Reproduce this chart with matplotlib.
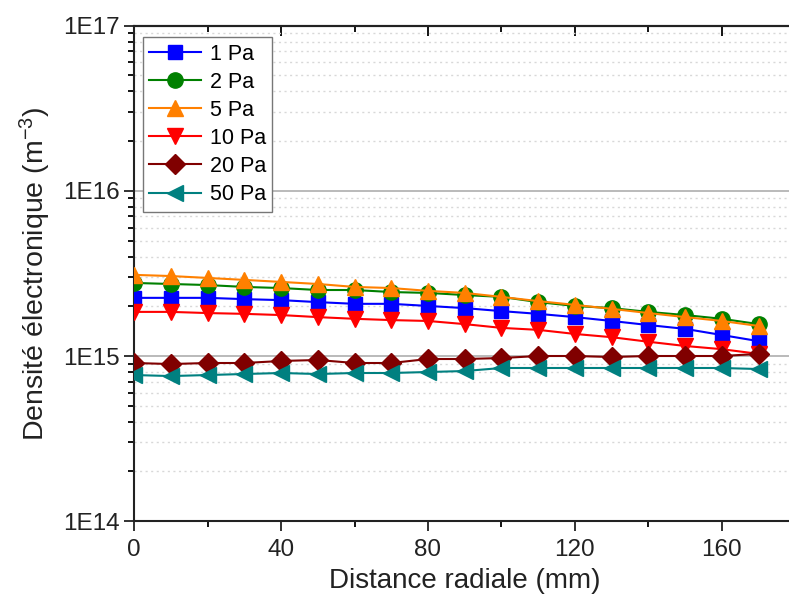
import numpy as np
import matplotlib
matplotlib.use("Agg")
import matplotlib.pyplot as plt
from matplotlib.ticker import FixedLocator, FuncFormatter, LogLocator, NullFormatter

plt.rcParams['font.family'] = ['Liberation Sans', 'DejaVu Sans']
plt.rcParams['mathtext.fontset'] = 'custom'
plt.rcParams['mathtext.rm'] = 'Liberation Sans'
plt.rcParams['mathtext.default'] = 'regular'

# radial distance (mm)
distance = [0, 10, 20, 30, 40, 50, 60, 70, 80, 90, 100, 110, 120, 130, 140, 150, 160, 170]

# electron density (x1E15 m^-3)
ne_1pa = [2.25, 2.25, 2.25, 2.21, 2.18, 2.12, 2.07, 2.07, 2.01, 1.95, 1.87, 1.80, 1.72, 1.63, 1.54, 1.46, 1.34, 1.23]
ne_2pa = [2.77, 2.73, 2.69, 2.62, 2.58, 2.51, 2.51, 2.44, 2.41, 2.34, 2.28, 2.12, 2.01, 1.95, 1.85, 1.77, 1.68, 1.56]
ne_5pa = [3.10, 3.05, 2.97, 2.89, 2.81, 2.73, 2.62, 2.58, 2.48, 2.41, 2.28, 2.15, 2.04, 1.93, 1.82, 1.72, 1.63, 1.52]
ne_10pa = [1.85, 1.85, 1.82, 1.80, 1.77, 1.72, 1.68, 1.65, 1.63, 1.56, 1.48, 1.44, 1.36, 1.30, 1.22, 1.15, 1.10, 1.03]
ne_20pa = [0.907, 0.894, 0.907, 0.907, 0.933, 0.946, 0.907, 0.907, 0.959, 0.959, 0.972, 1.00, 1.00, 0.986, 1.00, 1.00, 1.00, 1.03]
ne_50pa = [0.767, 0.756, 0.767, 0.778, 0.789, 0.778, 0.789, 0.789, 0.800, 0.811, 0.846, 0.846, 0.846, 0.846, 0.846, 0.846, 0.846, 0.834]

labels = ['1 Pa', '2 Pa', '5 Pa', '10 Pa', '20 Pa', '50 Pa']
series = [ne_1pa, ne_2pa, ne_5pa, ne_10pa, ne_20pa, ne_50pa]
colors = ['#0000ff', '#008000', '#ff8000', '#ff0000', '#800000', '#008080']
markers = ['s', 'o', '^', 'v', 'D', '<']
msizes = [10, 11, 12, 12, 10, 12]

fig = plt.figure(figsize=(7.89, 5.99), dpi=100)
ax = fig.add_axes([0.170, 0.130, 0.838, 0.827])

for vals, lab, c, m, ms in zip(series, labels, colors, markers, msizes):
    ax.plot(distance, np.array(vals) * 1e15, color=c, marker=m, markersize=ms,
            markeredgecolor=c, linewidth=1.5, label=lab, zorder=3)

ax.set_yscale('log')
ax.set_ylim(1e14, 1e17)
ax.set_xlim(0, 180)

ax.xaxis.set_major_locator(FixedLocator([0, 40, 80, 120, 160]))
ax.xaxis.set_minor_locator(FixedLocator([20, 60, 100, 140]))
ax.yaxis.set_major_locator(FixedLocator([1e14, 1e15, 1e16, 1e17]))
ax.yaxis.set_major_formatter(FuncFormatter(lambda v, p: "1E%d" % int(round(np.log10(v)))))
ax.yaxis.set_minor_locator(LogLocator(base=10, subs=np.arange(2, 10)))
ax.yaxis.set_minor_formatter(NullFormatter())

ax.grid(True, which='major', axis='y', color='#b4b4b4', linewidth=1.3, zorder=0)
ax.grid(True, which='minor', axis='y', color='#d8d8d8', linewidth=1.0,
        linestyle=(0, (1.5, 2.5)), zorder=0)

ax.tick_params(axis='both', which='major', direction='out', length=7, width=1.3,
               labelsize=17.5, colors='#222222')
ax.tick_params(axis='both', which='minor', direction='out', length=4, width=1.3)
ax.tick_params(axis='x', pad=6)

top = ax.secondary_xaxis('top')
top.xaxis.set_major_locator(FixedLocator([0, 40, 80, 120, 160]))
top.xaxis.set_minor_locator(FixedLocator([20, 60, 100, 140]))
top.tick_params(which='major', direction='in', length=7, width=1.3, labeltop=False)
top.tick_params(which='minor', direction='in', length=4, width=1.3)
top.spines['top'].set_linewidth(1.5)

for s in ax.spines.values():
    s.set_linewidth(1.5)
    s.set_color('#222222')

ax.set_xlabel('Distance radiale (mm)', fontsize=20, color='#222222', labelpad=5)
ax.set_ylabel('Densité électronique (m$^{-3}$)', fontsize=20.5, color='#222222', labelpad=7)

leg = ax.legend(loc='upper left', bbox_to_anchor=(0.181, 0.938),
                bbox_transform=fig.transFigure, fontsize=15.5, frameon=True,
                fancybox=False, edgecolor='#777777', framealpha=1,
                borderpad=0.3, labelspacing=0.33, handlelength=2.4,
                handletextpad=0.4, borderaxespad=0)
leg.get_frame().set_linewidth(1.0)

fig.savefig('out.png', dpi=100)
